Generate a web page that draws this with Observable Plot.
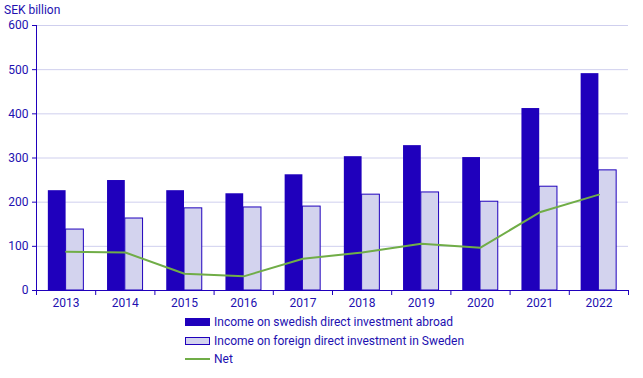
<!DOCTYPE html>
<html><head><meta charset="utf-8">
<script src="https://cdn.jsdelivr.net/npm/d3@7"></script>
<script src="https://cdn.jsdelivr.net/npm/@observablehq/plot@0.6"></script>
<style>
body{margin:0;background:#fff;font-family:Roboto,"Liberation Sans",Arial,sans-serif;}
#wrap{position:relative;width:643px;height:378px;}
#title{position:absolute;left:4px;top:3px;font-size:12px;color:#2210b0;}
#legend{position:absolute;left:185px;top:313px;font-size:12px;color:#2210b0;}
.row{display:flex;align-items:center;height:18.5px;}
.sw{width:25px;height:8px;margin-right:4px;box-sizing:border-box;}
.ln{width:25px;height:2px;margin-right:4px;background:#70ad47;}
</style></head>
<body><div id="wrap"><div id="title">SEK billion</div><div id="chart"></div>
<div id="legend">
<div class="row"><div class="sw" style="background:#1f00bc"></div>Income on swedish direct investment abroad</div>
<div class="row"><div class="sw" style="background:#d3d3ee;border:1px solid #1f00bc"></div>Income on foreign direct investment in Sweden</div>
<div class="row"><div class="ln"></div>Net</div>
</div></div>
<script>
const years = [2013,2014,2015,2016,2017,2018,2019,2020,2021,2022];
const abroad = [226,249,226,219,262,303,328,301,412,491];
const inSweden = [138,163,186,188,190,217,222,201,235,272];
const net = [88,86,38,32,72,86,106,97,177,217];
const yTicks = [0,100,200,300,400,500,600];

const data = years.map((y,i)=>({year:y, abroad:abroad[i], inSweden:inSweden[i], net:net[i]}));
const boundaries = [years[0]-0.5, ...years.map(y=>y+0.5)];
const txt = "#2210b0", axisC = "#1f00bc";

const chart = Plot.plot({
  width:643, height:310,
  marginLeft:36, marginRight:15, marginTop:25, marginBottom:20,
  style:{fontFamily:"Roboto, 'Liberation Sans', Arial, sans-serif", fontSize:"12px", color:txt, background:"transparent"},
  x:{type:"linear", domain:[years[0]-0.5, years[years.length-1]+0.5]},
  y:{domain:[0,600]},
  marks:[
    Plot.gridY(yTicks,{stroke:"#cfcfee", strokeOpacity:1}),
    Plot.rectY(data,{x1:d=>d.year-0.3, x2:d=>d.year, y:"abroad", fill:"#1f00bc"}),
    Plot.rectY(data,{x1:d=>d.year, x2:d=>d.year+0.3, y:"inSweden", fill:"#d3d3ee", stroke:"#1f00bc", strokeWidth:1}),
    Plot.line(data,{x:"year", y:"net", stroke:"#70ad47", strokeWidth:2}),
    Plot.axisY({ticks:yTicks, tickSize:4, tickPadding:4, label:null, stroke:axisC, fill:txt}),
    Plot.axisX({ticks:boundaries, tickFormat:()=>"", tickSize:5, label:null, stroke:axisC}),
    Plot.axisX({ticks:years, tickFormat:d=>String(d), tickSize:0, tickPadding:8, label:null, fill:txt}),
    Plot.ruleY([0],{stroke:axisC}),
    Plot.ruleX([years[0]-0.5],{stroke:axisC})
  ]
});
document.getElementById("chart").appendChild(chart);
</script></body></html>
